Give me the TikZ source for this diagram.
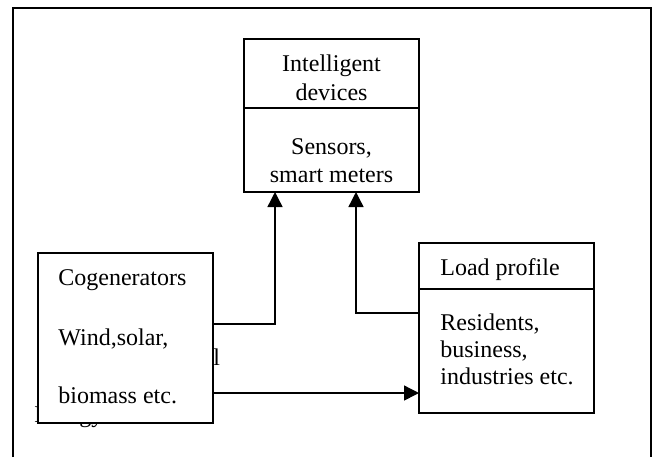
\documentclass[tikz,border=0pt]{standalone}
\usepackage{fontspec}
\setmainfont{Liberation Serif}
\usetikzlibrary{arrows.meta}
\begin{document}
\begin{tikzpicture}[x=0.5pt,y=-0.5pt,
  boxnode/.style={draw, line width=0.7pt, fill=white, inner sep=0pt, outer sep=0pt, minimum width=87.5pt},
  txt/.style={inner sep=0pt, font=\fontsize{12pt}{14.5pt}\selectfont},
  arr/.style={line width=0.7pt, -{Triangle[length=7.5pt,width=7.5pt]}},
  frame/.style={line width=0.8pt}]
\useasboundingbox (0,0) rectangle (657,457);
% outer frame
\coordinate (fbl) at (13,457);
\coordinate (ftl) at (13,8);
\coordinate (ftr) at (651,8);
\coordinate (fbr) at (651,457);
\draw[frame] (fbl) -- (ftl) -- (ftr) -- (fbr);
% text partly hidden behind the cogenerators box
\node[txt, anchor=base west] (hidl) at (213,365) {l};
\node[txt, anchor=base west] (hiden) at (34,422) {Energy};
% boxes
\node[boxnode, minimum height=76.5pt] (dev) at (331.5,115.5) {};
\node[boxnode, minimum height=85pt] (cog) at (125.5,338) {};
\node[boxnode, minimum height=85pt] (load) at (506.5,328) {};
% dividers
\coordinate (d1) at (0,108);
\draw[line width=0.7pt] (d1 -| dev.west) -- (d1 -| dev.east);
\coordinate (d2) at (0,289);
\draw[line width=0.7pt] (d2 -| load.west) -- (d2 -| load.east);
% texts
\node[txt, anchor=base] (t1) at (331.5,71) {Intelligent};
\node[txt, anchor=base] (t2) at (331.5,100) {devices};
\node[txt, anchor=base] (t3) at (331.5,154) {Sensors,};
\node[txt, anchor=base] (t4) at (331.5,182) {smart meters};
\node[txt, anchor=base west] (c1) at (58,285) {Cogenerators};
\node[txt, anchor=base west] (c2) at (58,345) {Wind,solar,};
\node[txt, anchor=base west] (c3) at (58,403) {biomass etc.};
\node[txt, anchor=base west] (l1) at (440,275) {Load profile};
\node[txt, anchor=base west] (l2) at (440,330) {Residents,};
\node[txt, anchor=base west] (l3) at (440,357) {business,};
\node[txt, anchor=base west] (l4) at (440,384) {industries etc.};
% connectors
\coordinate (a1) at (275,324);
\draw[arr] (a1 -| cog.east) -- (a1) -- (a1 |- dev.south);
\coordinate (a2) at (356,313);
\draw[arr] (a2 -| load.west) -- (a2) -- (a2 |- dev.south);
\coordinate (a3) at (0,393);
\draw[arr] (a3 -| cog.east) -- (a3 -| load.west);
\end{tikzpicture}
\end{document}
